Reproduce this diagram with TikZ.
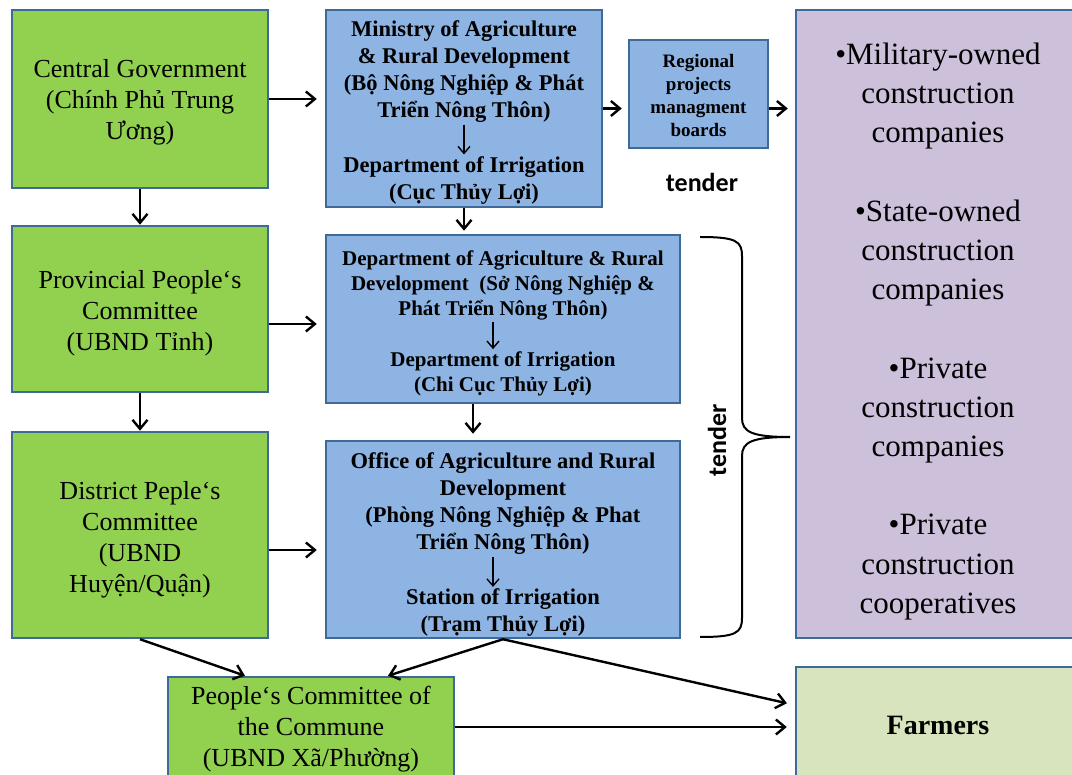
\documentclass[tikz,border=0pt]{standalone}
\usepackage{fontspec}
\setmainfont{Liberation Serif}
\newfontfamily\tendfont{Carlito}
\usetikzlibrary{arrows.meta,calc}
\definecolor{govgreen}{HTML}{92D050}
\definecolor{agblue}{HTML}{8EB4E3}
\definecolor{firmpurple}{HTML}{CCC0DA}
\definecolor{farmgreen}{HTML}{D7E4BD}
\definecolor{boxline}{HTML}{3D6A99}

\begin{document}
\begin{tikzpicture}[x=1pt,y=-1pt,
    box/.style={draw=boxline,line width=2.5pt,inner sep=0pt,align=center},
    govbox/.style={box,fill=govgreen,minimum width=256pt},
    govtext/.style={inner sep=2pt,align=center,font=\fontsize{26}{31}\selectfont},
    agbox/.style={box,fill=agblue},
    agtext/.style={inner sep=2pt,align=center,font=\bfseries\fontsize{22.5}{27}\selectfont},
    arr/.style={-{Straight Barb[length=9pt,width=15pt,line width=2.4pt]},line width=2.4pt},
    inarr/.style={-{Straight Barb[length=7pt,width=12pt,line width=1.4pt]},line width=1.4pt}]
    \useasboundingbox (0,0) rectangle (1072,775);

    % left column
    \node[govbox,minimum height=178pt] (cg) at (140,99) {};
    \node[govtext] (cgtxt) at (140,102) {Central Government\\(Chính Phủ Trung\\Ương)};
    \node[govbox,minimum height=166pt] (pv) at (140,309) {};
    \node[govtext] (pvtxt) at (140,313) {Provincial People‘s\\Committee\\(UBND Tỉnh)};
    \node[govbox,minimum height=206pt] (dt) at (140,535) {};
    \node[govtext] (dttxt) at (140,540) {District Peple‘s\\Committee\\(UBND\\Huyện/Quận)};
    \node[govbox,minimum width=286pt,minimum height=100pt] (cm) at (311,727) {};
    \node[govtext] (cmtxt) at (311,729.5) {People‘s Committee of\\the Commune\\(UBND Xã/Phường)};

    % ministry
    \node[agbox,minimum width=276pt,minimum height=197pt] (mny) at (464,108.5) {};
    \node[agtext] (mnyup) at (464,71.5)
        {Ministry of Agriculture\\\& Rural Development\\(Bộ Nông Nghiệp \& Phát\\Triển Nông Thôn)};
    \node[agtext] (mnylow) at (464,180.5)
        {Department of Irrigation\\(Cục Thủy Lợi)};
    \draw[inarr] (mnyup) -- (mnylow);

    \node[agbox,minimum width=139pt,minimum height=108pt] (rpm) at (698.5,94) {};
    \node[agtext,font=\bfseries\fontsize{19}{23}\selectfont] (rpmtxt) at (698.5,96)
        {Regional\\projects\\managment\\boards};
    \node[font=\tendfont\bfseries\fontsize{26}{30}\selectfont] (tdtop) at (702,182) {tender};

    % province department
    \node[agbox,minimum width=354pt,minimum height=168pt] (da) at (503,319) {};
    \node[agtext,font=\bfseries\fontsize{21}{25}\selectfont] (daup) at (503,285)
        {Department of Agriculture \& Rural\\Development~ (Sở Nông Nghiệp \&\\Phát Triển Nông Thôn)};
    \node[agtext,font=\bfseries\fontsize{21}{25}\selectfont] (dalow) at (503,373.5)
        {Department of Irrigation\\(Chi Cục Thủy Lợi)};
    \draw[inarr] ($(daup.south)+(-10,0)$) -- ($(dalow.north)+(-10,0)$);

    % district office
    \node[agbox,minimum width=354pt,minimum height=197pt] (of) at (503,539.5) {};
    \node[agtext] (ofup) at (503,503.5)
        {Office of Agriculture and Rural\\Development\\(Phòng Nông Nghiệp \& Phat\\Triển Nông Thôn)};
    \node[agtext] (oflow) at (503,613)
        {Station of Irrigation\\(Trạm Thủy Lợi)};
    \draw[inarr] ($(ofup.south)+(-10,0)$) -- ($(oflow.north)+(-10,0)$);

    % right column
    \node[box,fill=firmpurple,minimum width=284pt,minimum height=628pt] (firms) at (938,324) {};
    \node[inner sep=0pt,align=center,font=\fontsize{31}{39.2}\selectfont] (firmlist) at (938,331.5)
        {•Military-owned\\construction\\companies\\[39.2pt]
         •State-owned\\construction\\companies\\[39.2pt]
         •Private\\construction\\companies\\[39.2pt]
         •Private\\construction\\cooperatives};
    \node[box,fill=farmgreen,minimum width=284pt,minimum height=116pt,
        font=\bfseries\fontsize{28}{32}\selectfont] (fm) at (938,725) {Farmers};

    % brace and tender
    \draw[line width=2pt] (700,237) .. controls (736,237) and (742,241) .. (742,256)
        -- (742,418) .. controls (742,432) and (752,437) .. (790,437)
        .. controls (752,437) and (742,442) .. (742,456)
        -- (742,618) .. controls (742,633) and (736,637) .. (700,637);
    \node[rotate=90,font=\tendfont\bfseries\fontsize{26}{30}\selectfont] (tdside) at (717,440) {tender};

    % connectors
    \draw[arr,shorten >=8pt] (cg.east) -- (cg.east -| mny.west);
    \draw[arr,shorten >=6pt] (mny.east) -- (mny.east -| rpm.west);
    \draw[arr,shorten >=7pt] (rpm.east |- mny.east) -- (mny.east -| firms.west);
    \draw[arr] (cg.south) -- (pv.north);
    \draw[arr] (pv.south) -- (dt.north);
    \draw[arr,shorten >=3pt] (mny.south) -- (mny.south |- da.north);
    \draw[arr,shorten >=6pt] ($(da.south)+(-30,0)$) -- ($(of.north)+(-30,0)$);
    \draw[arr,shorten >=8pt] ($(pv.east)+(0,15)$) -- ($(pv.east -| da.west)+(0,15)$);
    \draw[arr,shorten >=8pt] ($(dt.east)+(0,15)$) -- ($(dt.east -| of.west)+(0,15)$);
    \draw[arr] (dt.south) -- ($(cm.north)+(-66,0)$);
    \draw[arr] (of.south) -- ($(cm.north)+(77,0)$);
    \draw[arr,shorten >=8pt] (of.south) -- ($(fm.west)+(0,-20)$);
    \draw[arr,shorten >=8pt] (cm.east) -- (cm.east -| fm.west);
\end{tikzpicture}
\end{document}
